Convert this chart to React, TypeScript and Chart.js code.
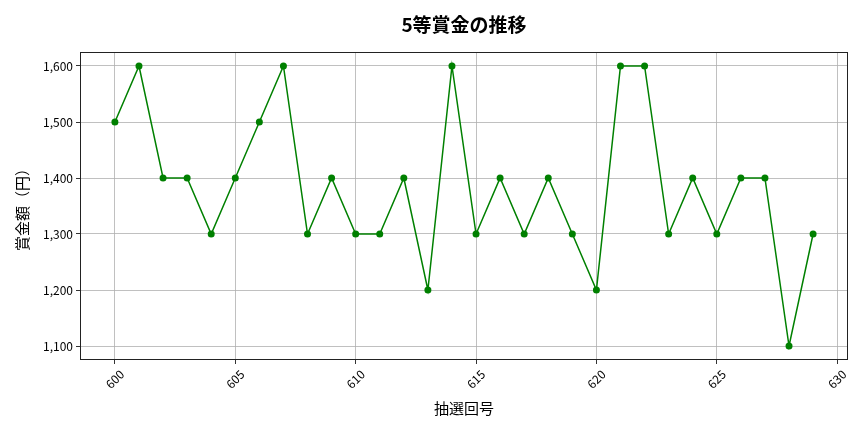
import React, { useEffect, useRef } from 'react';
import { Chart, registerables } from 'chart.js';

Chart.register(...registerables);

const drawNumbers = [600, 601, 602, 603, 604, 605, 606, 607, 608, 609, 610, 611, 612, 613, 614, 615, 616, 617, 618, 619, 620, 621, 622, 623, 624, 625, 626, 627, 628, 629];
const prizeValues = [1500, 1600, 1400, 1400, 1300, 1400, 1500, 1600, 1300, 1400, 1300, 1300, 1400, 1200, 1600, 1300, 1400, 1300, 1400, 1300, 1200, 1600, 1600, 1300, 1400, 1300, 1400, 1400, 1100, 1300];
const xTickValues = [600, 605, 610, 615, 620, 625, 630];
const yTickValues = [1100, 1200, 1300, 1400, 1500, 1600];
const titleText = '5等賞金の推移';
const xAxisLabel = '抽選回号';
const yAxisLabel = '賞金額（円）';

const FONT = '"Noto Sans CJK JP", "Noto Sans", sans-serif';

export default function App() {
  const canvasRef = useRef<HTMLCanvasElement | null>(null);

  useEffect(() => {
    const canvas = canvasRef.current;
    if (!canvas) return;

    const frameAndTitle = {
      id: 'frameAndTitle',
      afterDraw(chart: any) {
        const { ctx, chartArea } = chart;
        ctx.save();
        ctx.strokeStyle = '#222';
        ctx.lineWidth = 1;
        const l = Math.round(chartArea.left);
        const t = Math.round(chartArea.top);
        const r = Math.round(chartArea.right);
        const b = Math.round(chartArea.bottom);
        ctx.strokeRect(l + 0.5, t + 0.5, r - l - 1, b - t - 1);
        ctx.fillStyle = '#000';
        ctx.font = `bold 19px ${FONT}`;
        ctx.textAlign = 'center';
        ctx.textBaseline = 'middle';
        ctx.fillText(titleText, (chartArea.left + chartArea.right) / 2, 25);
        ctx.restore();
      },
    };

    const chart = new Chart(canvas, {
      type: 'line',
      data: {
        datasets: [
          {
            data: drawNumbers.map((x, i) => ({ x, y: prizeValues[i] })),
            borderColor: '#008000',
            backgroundColor: '#008000',
            borderWidth: 1.5,
            pointRadius: 3.5,
            pointBackgroundColor: '#008000',
            pointBorderColor: '#008000',
            pointBorderWidth: 0,
            tension: 0,
            fill: false,
          },
        ],
      },
      options: {
        responsive: false,
        animation: false,
        events: [],
        layout: { padding: { top: 52, right: 16, left: 0, bottom: 0 } },
        plugins: {
          legend: { display: false },
          tooltip: { enabled: false },
          title: { display: false },
        },
        scales: {
          x: {
            type: 'linear',
            min: 598.55,
            max: 630.45,
            afterBuildTicks: (s: any) => {
              s.ticks = xTickValues.map((v) => ({ value: v }));
            },
            afterFit: (s: any) => {
              s.height = 72;
            },
            ticks: {
              minRotation: 45,
              maxRotation: 45,
              autoSkip: false,
              color: '#000',
              font: { family: FONT, size: 12 },
              padding: 3,
              labelOffset: 7,
            },
            grid: {
              color: '#b0b0b0',
              lineWidth: 0.8,
              tickLength: 4,
              tickColor: '#000',
            },
            border: { display: false },
            title: {
              display: true,
              text: xAxisLabel,
              color: '#000',
              font: { family: FONT, size: 15 },
              padding: { top: 0, bottom: 15 },
            },
          },
          y: {
            type: 'linear',
            min: 1075,
            max: 1625,
            afterBuildTicks: (s: any) => {
              s.ticks = yTickValues.map((v) => ({ value: v }));
            },
            afterFit: (s: any) => {
              s.width = 80;
            },
            ticks: {
              color: '#000',
              font: { family: FONT, size: 12 },
              padding: 3,
              callback: (v: any) => Number(v).toLocaleString('en-US'),
            },
            grid: {
              color: '#b0b0b0',
              lineWidth: 0.8,
              tickLength: 4,
              tickColor: '#000',
            },
            border: { display: false },
            title: {
              display: true,
              text: yAxisLabel,
              color: '#000',
              font: { family: FONT, size: 15 },
              padding: { top: 13, bottom: 0 },
            },
          },
        },
      },
      plugins: [frameAndTitle],
    });

    return () => chart.destroy();
  }, []);

  return (
    <div style={{ position: 'fixed', left: 0, top: 0, width: 864, height: 432, background: '#fff' }}>
      <canvas ref={canvasRef} width={864} height={432} />
    </div>
  );
}
